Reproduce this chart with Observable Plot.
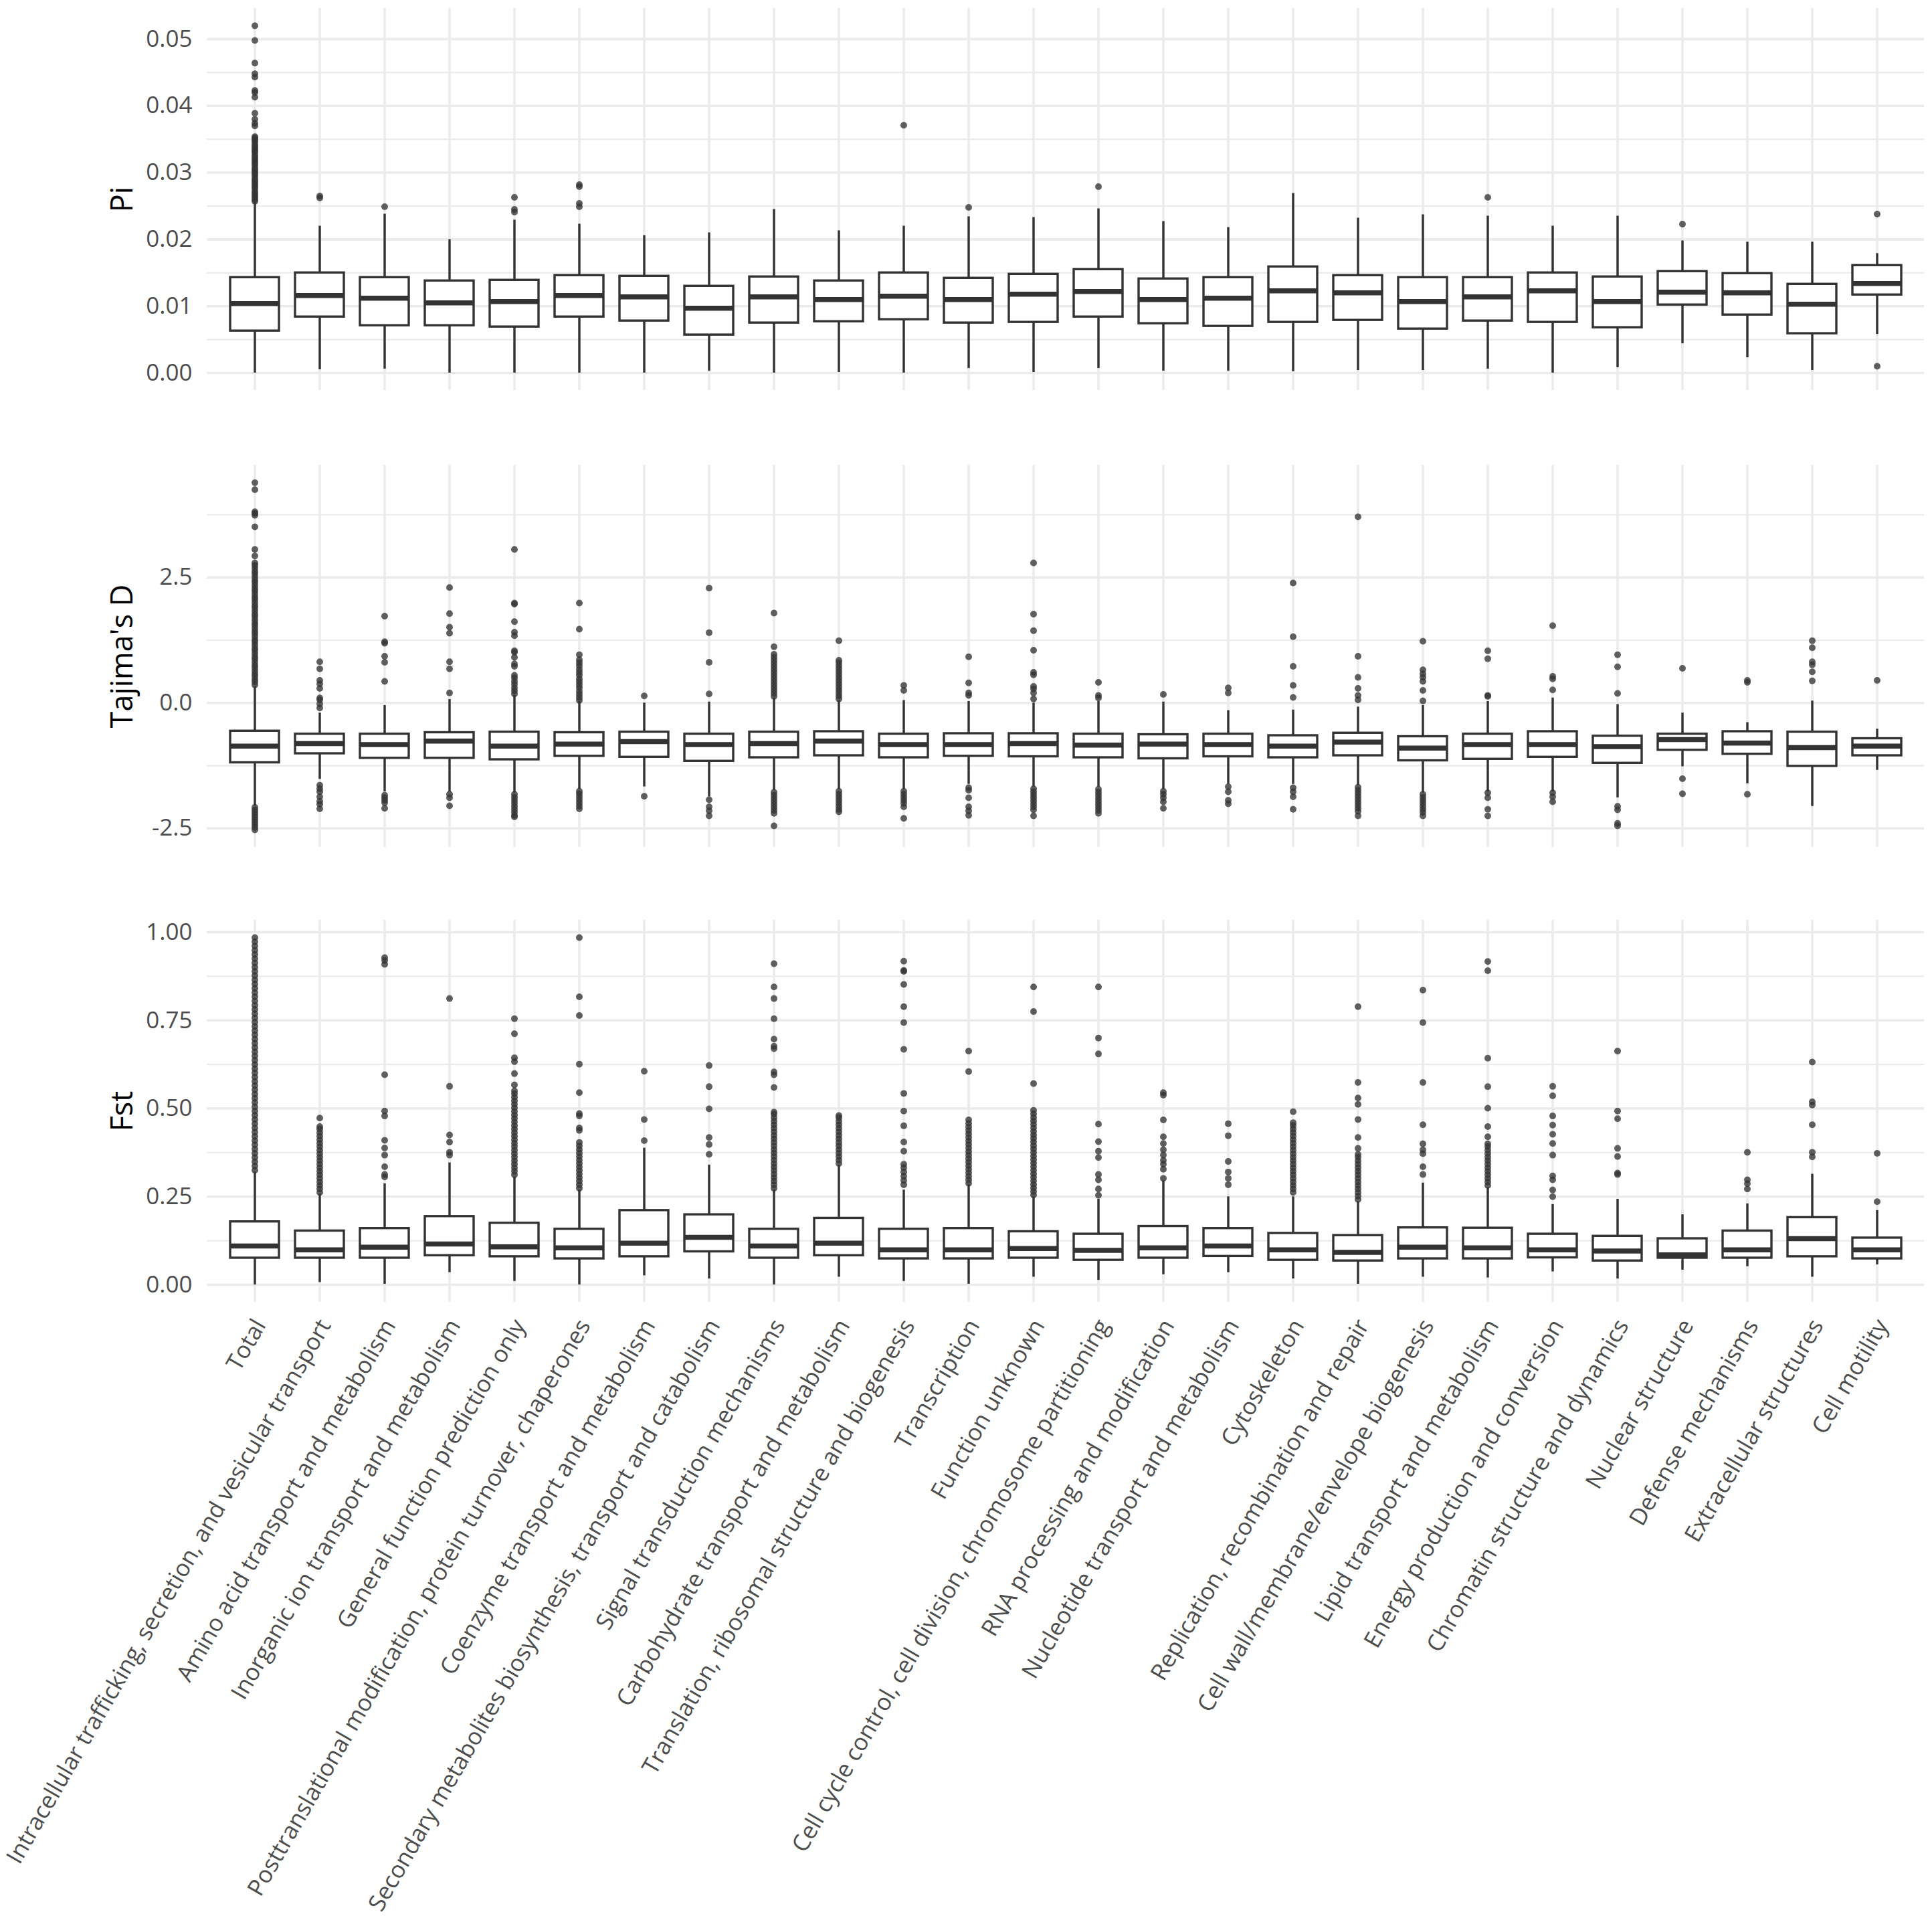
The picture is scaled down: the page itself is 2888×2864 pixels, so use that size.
<!DOCTYPE html>
<html>
<head>
<meta charset="utf-8">
<script src="https://cdn.jsdelivr.net/npm/d3@7"></script>
<script src="https://cdn.jsdelivr.net/npm/@observablehq/plot@0.6"></script>
<style>
  html, body { margin: 0; padding: 0; background: white; }
  #chart svg { display: block; }
</style>
</head>
<body>
<div id="chart"></div>
<script>
const categories = [
  "Total",
  "Intracellular trafficking, secretion, and vesicular transport",
  "Amino acid transport and metabolism",
  "Inorganic ion transport and metabolism",
  "General function prediction only",
  "Posttranslational modification, protein turnover, chaperones",
  "Coenzyme transport and metabolism",
  "Secondary metabolites biosynthesis, transport and catabolism",
  "Signal transduction mechanisms",
  "Carbohydrate transport and metabolism",
  "Translation, ribosomal structure and biogenesis",
  "Transcription",
  "Function unknown",
  "Cell cycle control, cell division, chromosome partitioning",
  "RNA processing and modification",
  "Nucleotide transport and metabolism",
  "Cytoskeleton",
  "Replication, recombination and repair",
  "Cell wall/membrane/envelope biogenesis",
  "Lipid transport and metabolism",
  "Energy production and conversion",
  "Chromatin structure and dynamics",
  "Nuclear structure",
  "Defense mechanisms",
  "Extracellular structures",
  "Cell motility"
];

// [lower whisker, Q1, median, Q3, upper whisker]
const piStats = [
  [0, 0.0063, 0.0104, 0.0143, 0.0255],
  [0.0005, 0.0084, 0.0116, 0.0150, 0.0220],
  [0.0006, 0.0071, 0.0112, 0.0143, 0.0238],
  [0, 0.0071, 0.0105, 0.0138, 0.0200],
  [0, 0.0069, 0.0107, 0.0139, 0.0229],
  [0, 0.0084, 0.0116, 0.0146, 0.0223],
  [0, 0.0078, 0.0114, 0.0145, 0.0206],
  [0.0003, 0.0057, 0.0097, 0.0130, 0.0210],
  [0, 0.0075, 0.0114, 0.0144, 0.0245],
  [0.0001, 0.0077, 0.0110, 0.0138, 0.0213],
  [0, 0.0080, 0.0115, 0.0150, 0.0220],
  [0.0007, 0.0075, 0.0110, 0.0142, 0.0234],
  [0.0001, 0.0076, 0.0118, 0.0148, 0.0233],
  [0.0007, 0.0084, 0.0122, 0.0155, 0.0246],
  [0.0003, 0.0074, 0.0110, 0.0141, 0.0227],
  [0.0003, 0.0070, 0.0112, 0.0143, 0.0218],
  [0.0002, 0.0076, 0.0123, 0.0159, 0.0269],
  [0.0004, 0.0079, 0.0120, 0.0146, 0.0232],
  [0.0004, 0.0066, 0.0107, 0.0143, 0.0237],
  [0.0006, 0.0078, 0.0114, 0.0143, 0.0235],
  [0, 0.0076, 0.0123, 0.0150, 0.0220],
  [0.0008, 0.0068, 0.0107, 0.0144, 0.0235],
  [0.0044, 0.0102, 0.0121, 0.0152, 0.0198],
  [0.0023, 0.0087, 0.0120, 0.0149, 0.0196],
  [0.0004, 0.0059, 0.0103, 0.0133, 0.0196],
  [0.0058, 0.0117, 0.0134, 0.0161, 0.0179]
];
const piOutliers = [
  [0.0257, 0.0260, 0.0263, 0.0266, 0.0269, 0.0272, 0.0276, 0.0279, 0.0282, 0.0285, 0.0288, 0.0291, 0.0295, 0.0298, 0.0301, 0.0304, 0.0307, 0.0311, 0.0314, 0.0317, 0.0320, 0.0323, 0.0326, 0.0330, 0.0333, 0.0336, 0.0339, 0.0342, 0.0346, 0.0349, 0.0352, 0.0354, 0.0370, 0.0374, 0.0380, 0.0389, 0.0413, 0.0420, 0.0423, 0.0443, 0.0448, 0.0464, 0.0498, 0.0520],
  [0.0262, 0.0265],
  [0.0249],
  [],
  [0.0241, 0.0245, 0.0263],
  [0.0249, 0.0254, 0.0279, 0.0282],
  [], [], [], [],
  [0.0371],
  [0.0248],
  [],
  [0.0279],
  [], [], [], [], [],
  [0.0263],
  [], [],
  [0.0223],
  [], [],
  [0.0238, 0.0010]
];

const tajStats = [
  [-2.05, -1.19, -0.86, -0.56, 0.33],
  [-1.52, -1.01, -0.81, -0.62, -0.20],
  [-1.77, -1.10, -0.83, -0.62, -0.05],
  [-1.77, -1.10, -0.76, -0.59, 0.07],
  [-1.79, -1.13, -0.86, -0.58, 0.15],
  [-1.72, -1.06, -0.82, -0.59, 0.03],
  [-1.67, -1.08, -0.77, -0.58, 0.00],
  [-1.87, -1.16, -0.83, -0.62, 0.02],
  [-1.74, -1.09, -0.81, -0.58, 0.10],
  [-1.72, -1.05, -0.76, -0.57, 0.05],
  [-1.72, -1.09, -0.83, -0.62, 0.05],
  [-1.62, -1.06, -0.83, -0.61, 0.03],
  [-1.67, -1.07, -0.81, -0.61, 0.00],
  [-1.67, -1.09, -0.84, -0.62, 0.03],
  [-1.72, -1.11, -0.82, -0.63, 0.02],
  [-1.62, -1.07, -0.83, -0.62, -0.15],
  [-1.62, -1.09, -0.86, -0.65, -0.14],
  [-1.64, -1.05, -0.78, -0.60, -0.08],
  [-1.79, -1.15, -0.90, -0.67, -0.05],
  [-1.77, -1.12, -0.83, -0.62, 0.03],
  [-1.77, -1.08, -0.83, -0.57, 0.10],
  [-1.89, -1.20, -0.87, -0.66, -0.03],
  [-1.27, -0.94, -0.73, -0.62, -0.20],
  [-1.61, -1.02, -0.80, -0.57, -0.39],
  [-2.06, -1.26, -0.89, -0.58, 0.04],
  [-1.34, -1.05, -0.86, -0.71, -0.52]
];
const tajOutliers = [
  [0.36, 0.42, 0.47, 0.53, 0.58, 0.64, 0.70, 0.75, 0.81, 0.87, 0.92, 0.98, 1.04, 1.09, 1.15, 1.21, 1.26, 1.32, 1.38, 1.43, 1.49, 1.55, 1.60, 1.66, 1.72, 1.77, 1.83, 1.89, 1.94, 2.00, 2.06, 2.11, 2.17, 2.23, 2.28, 2.34, 2.40, 2.45, 2.51, 2.57, 2.62, 2.68, 2.74, 2.79, 2.93, 3.06, 3.51, 3.74, 3.78, 3.81, 4.25, 4.39, -2.08, -2.13, -2.18, -2.23, -2.28, -2.33, -2.38, -2.43, -2.48, -2.53],
  [-0.10, -0.02, 0.06, 0.10, 0.29, 0.38, 0.45, 0.68, 0.82, -1.64, -1.71, -1.77, -1.87, -1.96, -2.02, -2.11],
  [0.43, 0.81, 0.93, 1.19, 1.22, 1.73, -1.84, -1.89, -1.94, -1.99, -2.10],
  [0.20, 0.68, 0.82, 1.39, 1.51, 1.78, 2.30, -1.82, -1.89, -2.05],
  [0.18, 0.24, 0.30, 0.37, 0.43, 0.50, 0.55, 0.73, 0.78, 0.91, 1.01, 1.04, 1.34, 1.41, 1.62, 1.97, 1.99, 3.06, -1.82, -1.88, -1.94, -2.00, -2.06, -2.12, -2.18, -2.24, -2.27],
  [0.05, 0.11, 0.17, 0.23, 0.30, 0.36, 0.42, 0.48, 0.55, 0.61, 0.67, 0.74, 0.80, 0.86, 0.96, 1.47, 1.99, -1.76, -1.81, -1.87, -1.93, -1.99, -2.05, -2.11],
  [0.14, -1.86],
  [0.18, 0.81, 1.40, 2.29, -1.93, -2.07, -2.15, -2.25],
  [0.13, 0.19, 0.25, 0.31, 0.37, 0.43, 0.49, 0.55, 0.61, 0.67, 0.73, 0.79, 0.85, 0.91, 0.97, 1.12, 1.79, -1.78, -1.84, -1.90, -1.96, -2.02, -2.08, -2.14, -2.20, -2.45],
  [0.08, 0.14, 0.20, 0.26, 0.32, 0.38, 0.44, 0.50, 0.56, 0.62, 0.68, 0.74, 0.80, 0.85, 1.24, -1.76, -1.82, -1.88, -1.94, -2.00, -2.06, -2.12, -2.17],
  [0.25, 0.35, -1.76, -1.82, -1.88, -1.94, -2.00, -2.07, -2.30],
  [0.15, 0.20, 0.40, 0.92, -1.69, -1.74, -1.89, -2.07, -2.15, -2.24],
  [0.08, 0.20, 0.28, 0.33, 0.56, 0.61, 1.05, 1.44, 1.77, 2.79, -1.71, -1.77, -1.83, -1.89, -1.95, -2.01, -2.07, -2.13, -2.25],
  [0.10, 0.15, 0.41, -1.72, -1.78, -1.84, -1.90, -1.96, -2.02, -2.08, -2.14, -2.20],
  [0.17, -1.76, -1.82, -1.89, -1.97, -2.10],
  [0.20, 0.30, -1.67, -1.77, -1.94, -2.01],
  [0.11, 0.35, 0.73, 1.32, 2.39, -1.69, -1.77, -1.87, -2.12],
  [0.06, 0.15, 0.29, 0.51, 0.93, 3.71, -1.68, -1.74, -1.80, -1.86, -1.92, -1.98, -2.04, -2.10, -2.16, -2.25],
  [0.04, 0.25, 0.43, 0.51, 0.58, 0.66, 1.23, -1.82, -1.88, -1.94, -2.00, -2.06, -2.12, -2.18, -2.25],
  [0.13, 0.15, 0.88, 1.04, -1.79, -1.89, -2.12, -2.25],
  [0.26, 0.48, 0.53, 1.54, -1.79, -1.87, -1.97],
  [0.19, 0.72, 0.96, -2.06, -2.13, -2.40, -2.45],
  [0.69, -1.51, -1.81],
  [0.41, 0.45, -1.82],
  [0.44, 0.62, 0.76, 0.82, 1.10, 1.24],
  [0.45]
];

const fstStats = [
  [0, 0.076, 0.110, 0.179, 0.320],
  [0.007, 0.076, 0.099, 0.153, 0.258],
  [0.002, 0.076, 0.107, 0.160, 0.287],
  [0.035, 0.083, 0.116, 0.194, 0.346],
  [0.010, 0.080, 0.108, 0.175, 0.306],
  [0, 0.074, 0.105, 0.158, 0.269],
  [0.026, 0.080, 0.118, 0.211, 0.388],
  [0.017, 0.094, 0.135, 0.199, 0.340],
  [0, 0.076, 0.110, 0.158, 0.269],
  [0.022, 0.083, 0.118, 0.189, 0.339],
  [0.010, 0.074, 0.099, 0.158, 0.269],
  [0.002, 0.074, 0.099, 0.160, 0.284],
  [0.022, 0.076, 0.103, 0.151, 0.250],
  [0.013, 0.070, 0.098, 0.144, 0.243],
  [0.029, 0.076, 0.105, 0.166, 0.295],
  [0.035, 0.081, 0.110, 0.160, 0.250],
  [0.017, 0.070, 0.099, 0.146, 0.250],
  [0.002, 0.068, 0.092, 0.140, 0.236],
  [0.022, 0.074, 0.107, 0.162, 0.289],
  [0.020, 0.074, 0.105, 0.161, 0.276],
  [0.037, 0.077, 0.099, 0.144, 0.228],
  [0.017, 0.068, 0.096, 0.138, 0.243],
  [0.042, 0.076, 0.085, 0.131, 0.199],
  [0.052, 0.076, 0.099, 0.153, 0.230],
  [0.022, 0.080, 0.131, 0.191, 0.314],
  [0.057, 0.074, 0.099, 0.133, 0.211]
];
const fstOutliers = [
  [0.325, 0.337, 0.349, 0.361, 0.373, 0.385, 0.397, 0.409, 0.421, 0.433, 0.445, 0.457, 0.469, 0.481, 0.493, 0.505, 0.517, 0.529, 0.541, 0.553, 0.565, 0.577, 0.589, 0.601, 0.613, 0.625, 0.637, 0.649, 0.661, 0.673, 0.685, 0.697, 0.709, 0.721, 0.733, 0.745, 0.757, 0.769, 0.781, 0.793, 0.805, 0.817, 0.829, 0.841, 0.853, 0.865, 0.877, 0.889, 0.901, 0.913, 0.925, 0.937, 0.949, 0.961, 0.973, 0.985],
  [0.262, 0.272, 0.282, 0.292, 0.302, 0.312, 0.322, 0.332, 0.342, 0.352, 0.362, 0.372, 0.382, 0.392, 0.402, 0.412, 0.422, 0.432, 0.442, 0.449, 0.473],
  [0.306, 0.313, 0.335, 0.368, 0.388, 0.410, 0.479, 0.493, 0.596, 0.909, 0.920, 0.928],
  [0.368, 0.376, 0.405, 0.425, 0.563, 0.812],
  [0.312, 0.322, 0.332, 0.342, 0.352, 0.362, 0.372, 0.382, 0.392, 0.402, 0.412, 0.422, 0.432, 0.442, 0.452, 0.462, 0.472, 0.482, 0.492, 0.502, 0.512, 0.522, 0.532, 0.542, 0.550, 0.567, 0.599, 0.633, 0.644, 0.712, 0.755],
  [0.274, 0.284, 0.294, 0.304, 0.314, 0.324, 0.334, 0.344, 0.354, 0.364, 0.374, 0.384, 0.394, 0.404, 0.438, 0.445, 0.479, 0.486, 0.545, 0.626, 0.764, 0.817, 0.985],
  [0.409, 0.469, 0.606],
  [0.370, 0.398, 0.418, 0.499, 0.562, 0.622],
  [0.274, 0.284, 0.294, 0.304, 0.314, 0.324, 0.334, 0.344, 0.354, 0.364, 0.374, 0.384, 0.394, 0.404, 0.414, 0.424, 0.434, 0.444, 0.454, 0.464, 0.474, 0.484, 0.490, 0.560, 0.596, 0.604, 0.670, 0.677, 0.697, 0.755, 0.812, 0.845, 0.911],
  [0.344, 0.354, 0.364, 0.374, 0.384, 0.394, 0.404, 0.414, 0.424, 0.434, 0.444, 0.454, 0.464, 0.474, 0.480],
  [0.284, 0.296, 0.308, 0.320, 0.332, 0.342, 0.379, 0.405, 0.451, 0.493, 0.543, 0.668, 0.744, 0.789, 0.852, 0.889, 0.892, 0.918],
  [0.288, 0.298, 0.308, 0.318, 0.328, 0.338, 0.348, 0.358, 0.368, 0.378, 0.388, 0.398, 0.408, 0.418, 0.428, 0.438, 0.448, 0.458, 0.468, 0.605, 0.663],
  [0.255, 0.265, 0.275, 0.285, 0.295, 0.305, 0.315, 0.325, 0.335, 0.345, 0.355, 0.365, 0.375, 0.385, 0.395, 0.405, 0.415, 0.425, 0.435, 0.445, 0.455, 0.465, 0.475, 0.485, 0.495, 0.571, 0.775, 0.845],
  [0.254, 0.272, 0.298, 0.313, 0.361, 0.379, 0.406, 0.456, 0.655, 0.700, 0.845],
  [0.302, 0.328, 0.342, 0.353, 0.368, 0.383, 0.401, 0.420, 0.468, 0.538, 0.545],
  [0.284, 0.302, 0.320, 0.350, 0.423, 0.457],
  [0.262, 0.272, 0.282, 0.292, 0.302, 0.312, 0.322, 0.332, 0.342, 0.352, 0.362, 0.372, 0.382, 0.392, 0.402, 0.412, 0.422, 0.432, 0.442, 0.452, 0.460, 0.491],
  [0.242, 0.252, 0.262, 0.272, 0.282, 0.292, 0.302, 0.312, 0.322, 0.332, 0.342, 0.352, 0.362, 0.370, 0.387, 0.418, 0.469, 0.512, 0.530, 0.574, 0.789],
  [0.313, 0.335, 0.372, 0.383, 0.400, 0.454, 0.574, 0.744, 0.836],
  [0.282, 0.292, 0.302, 0.312, 0.322, 0.332, 0.342, 0.352, 0.362, 0.372, 0.382, 0.392, 0.400, 0.420, 0.449, 0.501, 0.562, 0.643, 0.891, 0.917],
  [0.250, 0.269, 0.298, 0.309, 0.368, 0.401, 0.427, 0.453, 0.479, 0.536, 0.563],
  [0.313, 0.317, 0.364, 0.387, 0.471, 0.493, 0.663],
  [],
  [0.272, 0.287, 0.298, 0.376],
  [0.363, 0.376, 0.454, 0.510, 0.519, 0.632],
  [0.236, 0.373]
];

const piTicks = [0, 0.01, 0.02, 0.03, 0.04, 0.05];
const piMinor = [0.005, 0.015, 0.025, 0.035, 0.045];
const tajTicks = [-2.5, 0, 2.5];
const tajMinor = [-1.25, 1.25, 3.75];
const fstTicks = [0, 0.25, 0.5, 0.75, 1];
const fstMinor = [0.125, 0.375, 0.625, 0.875];

const INK = "#333333";
const GRID = "#EBEBEB";
const TEXT = "#4D4D4D";
const FONT = "'Open Sans', 'Noto Sans', sans-serif";

function panel({stats, outliers, major, minor, fmt, title, height, mt, mb, showX}) {
  const boxes = categories.map((c, i) => ({
    cat: c, lo: stats[i][0], q1: stats[i][1], med: stats[i][2], q3: stats[i][3], hi: stats[i][4]
  }));
  const pts = categories.flatMap((c, i) => outliers[i].map(v => ({cat: c, v})));
  const vals = boxes.flatMap(b => [b.lo, b.hi]).concat(pts.map(p => p.v));
  const [mn, mx] = d3.extent(vals);
  const pad = (mx - mn) * 0.05;
  const marks = [
    Plot.ruleY(minor, {stroke: GRID, strokeWidth: 2.2}),
    Plot.ruleY(major, {stroke: GRID, strokeWidth: 3.6}),
    Plot.ruleX(categories, {stroke: GRID, strokeWidth: 3.6}),
    Plot.ruleX(boxes, {x: "cat", y1: "lo", y2: "hi", stroke: INK, strokeWidth: 3.4}),
    Plot.barY(boxes, {x: "cat", y1: "q1", y2: "q3", fill: "white", stroke: INK, strokeWidth: 3.4}),
    Plot.tickY(boxes, {x: "cat", y: "med", stroke: INK, strokeWidth: 7.5}),
    Plot.dot(pts, {x: "cat", y: "v", r: 5, fill: INK, fillOpacity: 0.78}),
    Plot.axisY(major, {tickSize: 0, tickPadding: 22, tickFormat: fmt, fontSize: 35, color: TEXT, label: null}),
    Plot.text([title], {frameAnchor: "left", textAnchor: "middle", dx: -126, rotate: -90, fontSize: 45, fill: "black", text: d => d})
  ];
  if (showX) {
    marks.push(Plot.text(categories, {
      x: d => d, text: d => d, frameAnchor: "bottom", rotate: -60,
      textAnchor: "end", lineAnchor: "top", dx: -4, dy: 22,
      fontSize: 35, fill: TEXT
    }));
  }
  return Plot.plot({
    width: 2888,
    height,
    marginLeft: 309,
    marginRight: 12,
    marginTop: mt,
    marginBottom: mb,
    style: {fontFamily: FONT, background: "white", overflow: "visible"},
    x: {type: "band", domain: categories, paddingInner: 0.25, paddingOuter: 0.225, label: null, axis: null},
    y: {domain: [mn - pad, mx + pad], label: null},
    marks
  });
}

const chart = document.getElementById("chart");
chart.append(panel({stats: piStats, outliers: piOutliers, major: piTicks, minor: piMinor,
  fmt: d => d.toFixed(2), title: "Pi", height: 640, mt: 12, mb: 57, showX: false}));
chart.append(panel({stats: tajStats, outliers: tajOutliers, major: tajTicks, minor: tajMinor,
  fmt: d => d.toFixed(1), title: "Tajima's D", height: 690, mt: 55, mb: 64, showX: false}));
chart.append(panel({stats: fstStats, outliers: fstOutliers, major: fstTicks, minor: fstMinor,
  fmt: d => d.toFixed(2), title: "Fst", height: 1534, mt: 45, mb: 918, showX: true}));
</script>
</body>
</html>
